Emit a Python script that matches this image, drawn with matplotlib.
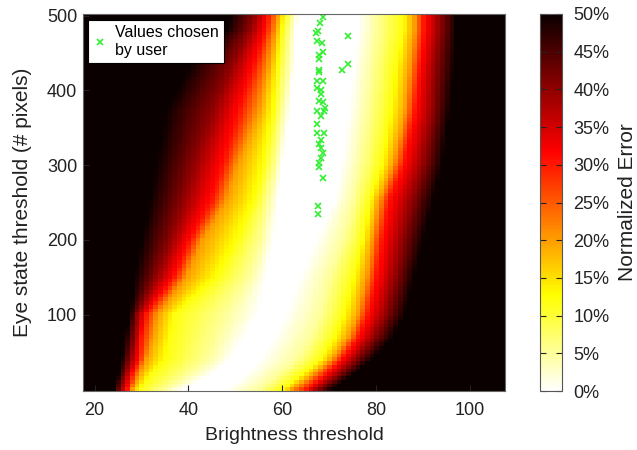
import matplotlib.pyplot as plt
import numpy as np

plt.rcParams['font.family'] = ['Liberation Sans', 'DejaVu Sans']

# Grid of thresholds (cell centres)
brightness = np.arange(18, 108, 1)
eye_state = np.arange(0, 505, 5)

# Error contours: for each row, the brightness where
# the error reaches the given level (left flank, then right flank of the valley)
row_y = [0, 20, 40, 70, 100, 150, 200, 252, 300, 372, 430, 480, 500]
left_levels = [50, 40, 30, 20, 12, 5, 0]
left_x = [
    [24.0, 25.5, 27.0, 28.0, 29.6, 35.0, 39.0],
    [25.0, 26.5, 28.0, 29.5, 32.0, 40.0, 45.0],
    [25.8, 27.5, 29.5, 31.0, 35.0, 44.0, 49.0],
    [26.5, 28.5, 30.0, 32.5, 36.0, 46.0, 52.0],
    [27.5, 29.0, 31.0, 33.5, 37.0, 48.0, 55.0],
    [28.5, 33.0, 37.0, 39.5, 46.0, 53.0, 56.5],
    [30.0, 36.0, 40.5, 43.0, 50.5, 55.5, 58.0],
    [31.7, 38.7, 45.0, 48.0, 54.0, 57.0, 59.0],
    [33.0, 41.0, 47.5, 50.5, 56.0, 58.5, 60.0],
    [35.0, 45.0, 51.0, 55.0, 58.0, 60.0, 61.5],
    [40.0, 49.0, 54.0, 57.0, 59.0, 61.0, 62.5],
    [48.0, 53.0, 56.5, 58.5, 60.0, 61.5, 63.0],
    [49.0, 54.0, 57.0, 59.0, 60.5, 62.0, 63.5],
]
right_levels = [0, 5, 12, 20, 30, 40, 50]
right_x = [
    [48.0, 55.0, 60.0, 62.0, 65.0, 67.5, 70.5],
    [52.0, 59.0, 64.0, 66.5, 69.0, 72.0, 75.0],
    [55.0, 63.0, 68.0, 70.5, 72.5, 75.5, 79.0],
    [58.0, 66.0, 71.0, 74.0, 76.0, 79.5, 83.5],
    [60.5, 68.0, 73.0, 76.0, 78.0, 82.0, 86.0],
    [63.5, 70.0, 75.0, 77.8, 79.8, 84.0, 88.0],
    [67.0, 73.0, 77.0, 79.0, 81.0, 85.5, 90.0],
    [71.0, 75.0, 78.5, 80.5, 82.5, 87.5, 92.0],
    [72.5, 76.5, 81.0, 83.5, 85.5, 90.0, 94.0],
    [74.0, 78.0, 83.0, 86.0, 88.0, 92.0, 95.5],
    [75.0, 79.0, 84.0, 87.0, 89.0, 92.5, 96.5],
    [76.0, 80.0, 85.5, 88.0, 90.0, 93.5, 97.0],
    [76.0, 80.0, 85.5, 88.0, 90.0, 93.5, 97.0],
]

# User-chosen thresholds
user_x = [68.6, 68.1, 67.7, 67.2, 74.1, 67.5, 68.4, 68.6, 67.9, 67.9, 74.1, 72.8,
          67.9, 67.9, 67.5, 68.6, 67.5, 68.2, 68.2, 67.9, 68.6, 69.1, 68.9, 67.5,
          68.2, 67.5, 67.5, 68.9, 68.2, 67.9, 68.2, 68.6, 68.2, 67.9, 67.9, 68.6,
          67.7, 67.7]
user_y = [498, 491, 480, 477, 473, 466, 464, 451, 448, 442, 435, 427,
          428, 425, 413, 413, 403, 400, 395, 386, 384, 377, 372, 372,
          366, 355, 343, 343, 334, 328, 323, 316, 310, 303, 298, 283,
          245, 234]

levels = left_levels + right_levels
pos = np.hstack([np.array(left_x), np.array(right_x)])
err = np.zeros((len(eye_state), len(brightness)))
for i, yv in enumerate(eye_state):
    xs = [np.interp(yv, row_y, pos[:, k]) for k in range(pos.shape[1])]
    err[i] = np.interp(brightness, xs, levels, left=50, right=50)

fig = plt.figure(figsize=(6.37, 4.5), dpi=100)
ax = fig.add_axes([0.130, 0.131, 0.663, 0.838])
im = ax.imshow(err, cmap='hot_r', vmin=0, vmax=50, origin='lower', aspect='auto',
               interpolation='nearest',
               extent=[17.5, 107.5, -2.5, 502.5])
ax.plot(user_x, user_y, 'x', color='#33ee33', markersize=4, markeredgewidth=1.2,
        label='Values chosen\nby user')
ax.set_xlim(17.5, 107.5)
ax.set_ylim(-2.5, 502.5)
ax.set_xticks([20, 40, 60, 80, 100])
ax.set_yticks([100, 200, 300, 400, 500])
ax.tick_params(direction='in', length=4, labelsize=13, colors='#222222')
ax.tick_params(axis='x', pad=8)
ax.tick_params(axis='y', pad=4)
ax.set_xlabel('Brightness threshold', fontsize=14, color='#222222', labelpad=6)
ax.set_ylabel('Eye state threshold (# pixels)', fontsize=15, color='#222222',
              labelpad=11)
for s in ax.spines.values():
    s.set_color('#666666')
leg = ax.legend(loc='upper left', fontsize=11.5, frameon=True, fancybox=False,
                framealpha=1, handlelength=0.8, handletextpad=0.5, borderpad=0.35,
                labelspacing=0.2, borderaxespad=0.35)
leg.get_frame().set_edgecolor('black')
leg.get_frame().set_facecolor('white')
leg.get_frame().set_linewidth(0.8)

cax = fig.add_axes([0.848, 0.131, 0.0345, 0.838])
cb = fig.colorbar(im, cax=cax)
cb.set_ticks(np.arange(0, 55, 5))
cb.set_ticklabels(['%d%%' % v for v in range(0, 55, 5)])
cax.tick_params(direction='in', length=4, labelsize=13, colors='#222222',
                left=True, right=True, pad=8)
cb.outline.set_edgecolor('#555555')
cb.set_label('Normalized Error', fontsize=15, color='#222222', labelpad=6)

fig.savefig('out.png', dpi=100)
